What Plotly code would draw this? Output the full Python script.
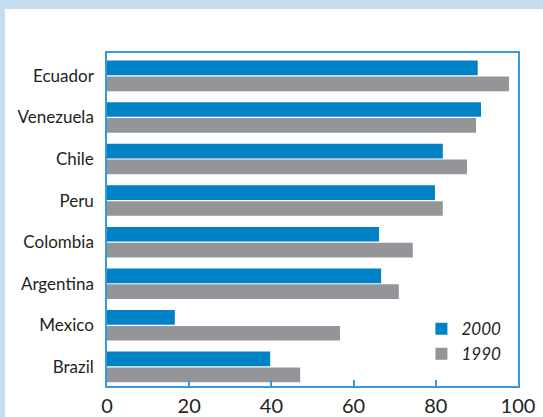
import plotly.graph_objects as go

countries = ["Brazil", "Mexico", "Argentina", "Colombia", "Peru", "Chile", "Venezuela", "Ecuador"]
values_2000 = [39.7, 16.5, 66.7, 66.2, 79.8, 81.7, 91.0, 90.2]
values_1990 = [47.0, 56.7, 71.0, 74.4, 81.7, 87.6, 89.8, 97.8]
x_ticks = [0, 20, 40, 60, 80, 100]

BLUE = "#0082C6"
GREY = "#939598"
FRAME = "#3A9AD9"
BAND = "#C6DCF0"
TEXT = "#231F20"
FONT = "Lato, 'Open Sans', sans-serif"

W, H = 543, 417
ML, MR, MT, MB = 107, 25, 53, 31

fig = go.Figure()
fig.add_trace(go.Bar(y=countries, x=values_1990, orientation="h", name="1990",
                     marker=dict(color=GREY, line=dict(width=0)), legendrank=2))
fig.add_trace(go.Bar(y=countries, x=values_2000, orientation="h", name="2000",
                     marker=dict(color=BLUE, line=dict(width=0)), legendrank=1))

# light blue frame around the panel (top and left bands)
pw, ph = W - ML - MR, H - MT - MB
def px_x(p):
    return (p - ML) / pw
def px_y(p):
    return (H - MB - p) / ph

fig.add_shape(type="rect", xref="paper", yref="paper", layer="below",
              x0=px_x(0), x1=px_x(W), y0=px_y(0), y1=px_y(9),
              fillcolor=BAND, line=dict(width=0))
fig.add_shape(type="rect", xref="paper", yref="paper", layer="below",
              x0=px_x(0), x1=px_x(5), y0=px_y(0), y1=px_y(H),
              fillcolor=BAND, line=dict(width=0))

fig.update_layout(
    width=W, height=H,
    margin=dict(l=ML, r=MR, t=MT, b=MB, autoexpand=False),
    paper_bgcolor="white", plot_bgcolor="white",
    barmode="group", bargap=0.237, bargroupgap=0.073,
    font=dict(family=FONT, color=TEXT),
    showlegend=True,
    legend=dict(x=0.765, y=0.225, xanchor="left", yanchor="top",
                bgcolor="rgba(0,0,0,0)",
                font=dict(size=17, family=FONT, style="italic", color=TEXT),
                itemwidth=30, tracegroupgap=0),
    xaxis=dict(range=[0, 100], tickvals=x_ticks, ticks="inside", ticklen=6,
               tickcolor=FRAME, tickwidth=1.5, showgrid=False, zeroline=False,
               showline=True, linecolor=FRAME, linewidth=1.5, mirror=True,
               automargin=False, ticklabelstandoff=1,
               tickfont=dict(size=20, family=FONT, color=TEXT)),
    yaxis=dict(range=[-0.46, 7.55], showgrid=False, zeroline=False,
               showline=True, linecolor=FRAME, linewidth=1.5, mirror=True,
               ticks="", ticklabelstandoff=8, automargin=False,
               tickfont=dict(size=17, family=FONT, color=TEXT)),
)

fig.write_html("out.html")
